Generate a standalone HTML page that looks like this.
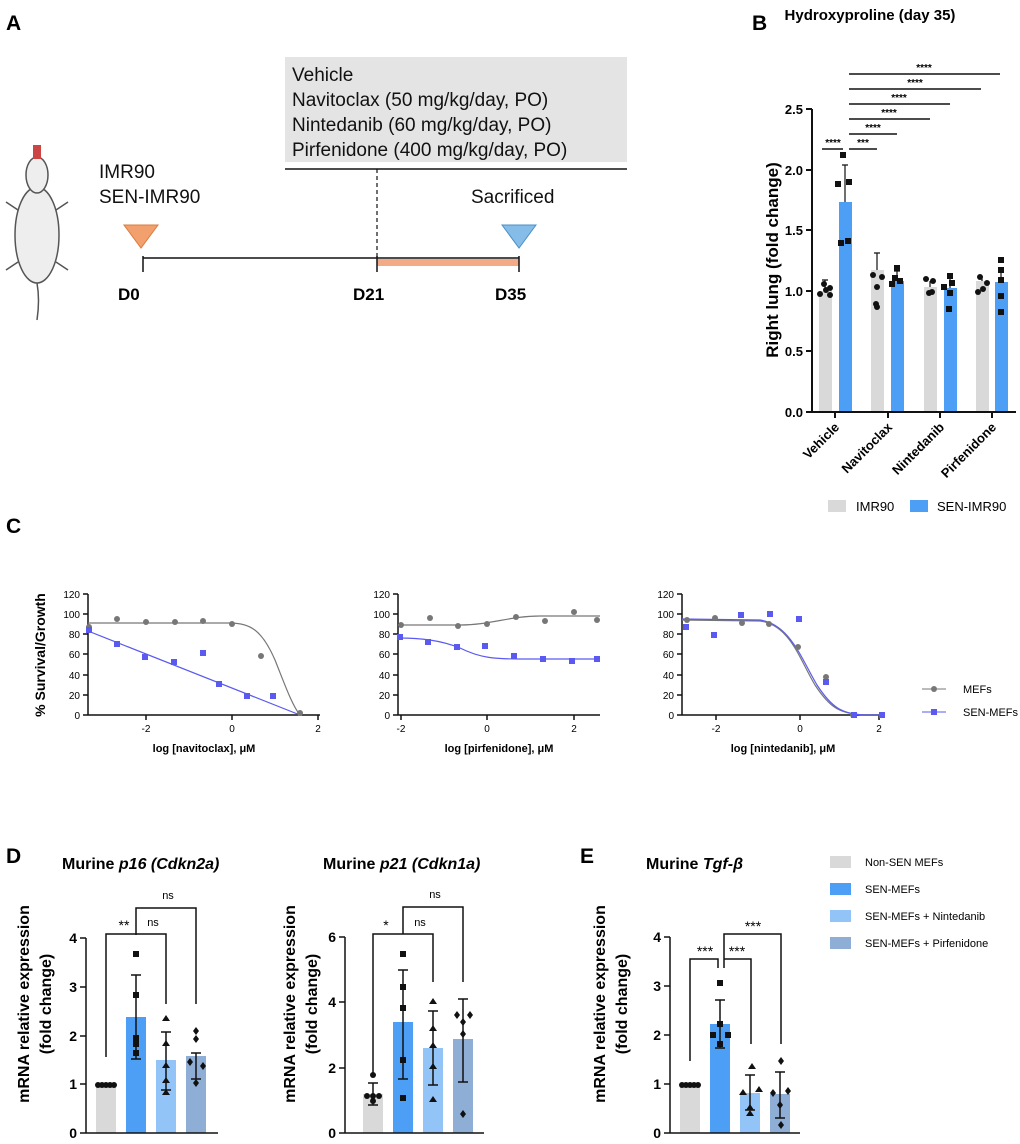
<!DOCTYPE html><html><head><meta charset="utf-8"><style>body{margin:0;background:#fff}svg{display:block;font-family:"Liberation Sans",Arial,sans-serif}</style></head><body>
<svg width="1020" height="1144" viewBox="0 0 1020 1144" xmlns="http://www.w3.org/2000/svg">
<g font-weight="bold" font-size="21"><text x="6" y="30">A</text><text x="752" y="30">B</text><text x="6" y="533">C</text><text x="6" y="863">D</text><text x="580" y="863">E</text></g>
<!-- Panel A -->
<g stroke="#555" stroke-width="1.5" fill="#eee"><ellipse cx="37" cy="235" rx="22" ry="48"/><ellipse cx="37" cy="175" rx="11" ry="18"/><path d="M37 283 Q40 300 37 320" fill="none"/><path d="M18 210 l-12 -8 M56 210 l12 -8 M18 262 l-12 8 M56 262 l12 8" fill="none"/></g>
<rect x="33" y="145" width="8" height="14" fill="#c44"/>
<rect x="285" y="57" width="342" height="105" fill="#e4e4e4"/>
<g font-size="19" fill="#111"><text x="292" y="81">Vehicle</text><text x="292" y="106">Navitoclax (50 mg/kg/day, PO)</text><text x="292" y="131">Nintedanib (60 mg/kg/day, PO)</text><text x="292" y="156">Pirfenidone (400 mg/kg/day, PO)</text>
<text x="99" y="178">IMR90</text><text x="99" y="203">SEN-IMR90</text><text x="471" y="203">Sacrificed</text></g>
<line x1="285" y1="169" x2="627" y2="169" stroke="#111" stroke-width="1.5"/>
<line x1="377" y1="169" x2="377" y2="258" stroke="#111" stroke-width="1.2" stroke-dasharray="4,3"/>
<rect x="377" y="259" width="142" height="7" fill="#f2ab86"/>
<g stroke="#111" stroke-width="1.5"><line x1="143" y1="258" x2="519" y2="258"/><line x1="143" y1="256" x2="143" y2="272"/><line x1="377" y1="256" x2="377" y2="272"/><line x1="519" y1="256" x2="519" y2="272"/></g>
<polygon points="124,225 158,225 141,248" fill="#f2a06e" stroke="#d97b3e"/>
<polygon points="502,225 536,225 519,248" fill="#86bde8" stroke="#4a8fc7"/>
<g font-size="17" font-weight="bold"><text x="118" y="300">D0</text><text x="353" y="300">D21</text><text x="495" y="300">D35</text></g>
<!-- Panel B -->
<text x="870" y="20" font-size="15" font-weight="bold" text-anchor="middle">Hydroxyproline (day 35)</text>
<g fill="#d9d9d9"><rect x="819" y="291" width="13" height="121"/><rect x="871" y="270" width="13" height="142"/><rect x="924" y="287" width="13" height="125"/><rect x="976" y="281" width="13" height="131"/></g>
<g fill="#4d9ef5"><rect x="839" y="202" width="13" height="210"/><rect x="891" y="281" width="13" height="131"/><rect x="944" y="288" width="13" height="124"/><rect x="995" y="282" width="13" height="130"/></g>
<g stroke="#111" stroke-width="1.2" fill="none"><path d="M825 291V280M822 280h6M845 202V165M842 165h6M877 270V253M874 253h6M897 281V271M894 271h6M930 287V281M950 288V275M982 281V276M1001 282V267"/></g>
<g fill="#111"><circle cx="820" cy="294" r="3"/><circle cx="826" cy="290" r="3"/><circle cx="830" cy="295" r="3"/><circle cx="824" cy="284" r="3"/><circle cx="830" cy="288" r="3"/>
<rect x="840" y="152" width="6" height="6"/><rect x="835" y="181" width="6" height="6"/><rect x="846" y="179" width="6" height="6"/><rect x="838" y="240" width="6" height="6"/><rect x="845" y="238" width="6" height="6"/>
<circle cx="873" cy="275" r="3"/><circle cx="882" cy="277" r="3"/><circle cx="877" cy="287" r="3"/><circle cx="876" cy="304" r="3"/><circle cx="877" cy="307" r="3"/>
<rect x="894" y="265" width="6" height="6"/><rect x="889" y="281" width="6" height="6"/><rect x="897" y="278" width="6" height="6"/><rect x="892" y="275" width="6" height="6"/>
<circle cx="926" cy="279" r="3"/><circle cx="933" cy="281" r="3"/><circle cx="929" cy="293" r="3"/><circle cx="932" cy="292" r="3"/>
<rect x="947" y="273" width="6" height="6"/><rect x="941" y="284" width="6" height="6"/><rect x="949" y="280" width="6" height="6"/><rect x="947" y="290" width="6" height="6"/><rect x="946" y="306" width="6" height="6"/>
<circle cx="980" cy="277" r="3"/><circle cx="987" cy="283" r="3"/><circle cx="978" cy="292" r="3"/><circle cx="983" cy="289" r="3"/>
<rect x="998" y="257" width="6" height="6"/><rect x="998" y="267" width="6" height="6"/><rect x="998" y="277" width="6" height="6"/><rect x="998" y="293" width="6" height="6"/><rect x="998" y="309" width="6" height="6"/></g>
<g stroke="#111" stroke-width="2" fill="none"><path d="M812 109V412H1016M806 109h6M806 170h6M806 230h6M806 291h6M806 351h6M806 412h6M835 412v6M888 412v6M940 412v6M992 412v6"/></g>
<g font-size="13" font-weight="bold" text-anchor="end"><text x="803" y="114">2.5</text><text x="803" y="175">2.0</text><text x="803" y="235">1.5</text><text x="803" y="296">1.0</text><text x="803" y="356">0.5</text><text x="803" y="417">0.0</text>
<text transform="translate(840,428) rotate(-45)">Vehicle</text><text transform="translate(893,428) rotate(-45)">Navitoclax</text><text transform="translate(945,428) rotate(-45)">Nintedanib</text><text transform="translate(997,428) rotate(-45)">Pirfenidone</text></g>
<text transform="translate(778,260) rotate(-90)" font-size="17" font-weight="bold" text-anchor="middle">Right lung (fold change)</text>
<g stroke="#111" stroke-width="1.5"><path d="M822 149h21M849 149h28M849 134h48M849 119h81M849 104h101M849 89h132M849 74h151"/></g>
<g font-size="10" text-anchor="middle" font-weight="bold"><text x="833" y="146">****</text><text x="863" y="146">***</text><text x="873" y="131">****</text><text x="889" y="116">****</text><text x="899" y="101">****</text><text x="915" y="86">****</text><text x="924" y="71">****</text></g>
<rect x="828" y="500" width="18" height="12" fill="#d9d9d9"/><text x="856" y="511" font-size="13">IMR90</text>
<rect x="910" y="500" width="18" height="12" fill="#4d9ef5"/><text x="937" y="511" font-size="13">SEN-IMR90</text>
<!-- Panel C -->
<text transform="translate(45,655) rotate(-90)" font-size="14" font-weight="bold" text-anchor="middle">% Survival/Growth</text>
<g stroke="#111" stroke-width="1.5" fill="none">
<path d="M88 594V715H320M83 594h5M83 614h5M83 634h5M83 654h5M83 675h5M83 695h5M83 715h5M146 715v5M232 715v5M318 715v5"/>
<path d="M398 594V715H600M393 594h5M393 614h5M393 634h5M393 654h5M393 675h5M393 695h5M393 715h5M401 715v5M487 715v5M574 715v5"/>
<path d="M682 594V715H885M677 594h5M677 614h5M677 634h5M677 654h5M677 675h5M677 695h5M677 715h5M716 715v5M800 715v5M879 715v5"/></g>
<g font-size="10" text-anchor="end"><text x="80" y="598">120</text><text x="80" y="618">100</text><text x="80" y="638">80</text><text x="80" y="658">60</text><text x="80" y="679">40</text><text x="80" y="699">20</text><text x="80" y="719">0</text>
<text x="390" y="598">120</text><text x="390" y="618">100</text><text x="390" y="638">80</text><text x="390" y="658">60</text><text x="390" y="679">40</text><text x="390" y="699">20</text><text x="390" y="719">0</text>
<text x="674" y="598">120</text><text x="674" y="618">100</text><text x="674" y="638">80</text><text x="674" y="658">60</text><text x="674" y="679">40</text><text x="674" y="699">20</text><text x="674" y="719">0</text></g>
<g font-size="10" text-anchor="middle"><text x="146" y="732">-2</text><text x="232" y="732">0</text><text x="318" y="732">2</text><text x="401" y="732">-2</text><text x="487" y="732">0</text><text x="574" y="732">2</text><text x="716" y="732">-2</text><text x="800" y="732">0</text><text x="879" y="732">2</text>
<g font-weight="bold" font-size="11"><text x="204" y="752">log [navitoclax], μM</text><text x="499" y="752">log [pirfenidone], μM</text><text x="783" y="752">log [nintedanib], μM</text></g></g>
<g fill="none" stroke-width="1.2"><path d="M88 623 L230 623 C250 623 262 630 275 660 C285 685 292 705 300 715" stroke="#777"/><path d="M88 631 L300 715" stroke="#5a5af0"/>
<path d="M398 625 L460 625 C490 625 510 616 540 616 L600 616" stroke="#777"/><path d="M398 638 C420 638 440 640 460 648 C480 658 495 659 520 659 L600 659" stroke="#5a5af0"/>
<path d="M682 620 L760 621 C790 625 800 660 815 685 C830 708 840 714 865 715 L885 715" stroke="#777"/><path d="M682 619 L760 620 C790 624 802 660 817 685 C832 708 842 714 865 715 L885 715" stroke="#5a5af0"/></g>
<g fill="#777"><circle cx="89" cy="627" r="3"/><circle cx="117" cy="619" r="3"/><circle cx="146" cy="622" r="3"/><circle cx="175" cy="622" r="3"/><circle cx="203" cy="621" r="3"/><circle cx="232" cy="624" r="3"/><circle cx="261" cy="656" r="3"/><circle cx="300" cy="713" r="3"/>
<circle cx="401" cy="625" r="3"/><circle cx="430" cy="618" r="3"/><circle cx="458" cy="626" r="3"/><circle cx="487" cy="624" r="3"/><circle cx="516" cy="617" r="3"/><circle cx="545" cy="621" r="3"/><circle cx="574" cy="612" r="3"/><circle cx="597" cy="620" r="3"/>
<circle cx="687" cy="620" r="3"/><circle cx="715" cy="618" r="3"/><circle cx="742" cy="623" r="3"/><circle cx="769" cy="624" r="3"/><circle cx="798" cy="647" r="3"/><circle cx="826" cy="677" r="3"/><circle cx="853" cy="715" r="3"/><circle cx="882" cy="715" r="3"/></g>
<g fill="#5a5af0"><rect x="86" y="627" width="6" height="6"/><rect x="114" y="641" width="6" height="6"/><rect x="142" y="654" width="6" height="6"/><rect x="171" y="659" width="6" height="6"/><rect x="200" y="650" width="6" height="6"/><rect x="216" y="681" width="6" height="6"/><rect x="244" y="693" width="6" height="6"/><rect x="270" y="693" width="6" height="6"/>
<rect x="397" y="634" width="6" height="6"/><rect x="425" y="639" width="6" height="6"/><rect x="454" y="644" width="6" height="6"/><rect x="482" y="643" width="6" height="6"/><rect x="511" y="653" width="6" height="6"/><rect x="540" y="656" width="6" height="6"/><rect x="569" y="658" width="6" height="6"/><rect x="594" y="656" width="6" height="6"/>
<rect x="683" y="624" width="6" height="6"/><rect x="711" y="632" width="6" height="6"/><rect x="738" y="612" width="6" height="6"/><rect x="767" y="611" width="6" height="6"/><rect x="796" y="616" width="6" height="6"/><rect x="823" y="679" width="6" height="6"/><rect x="851" y="712" width="6" height="6"/><rect x="879" y="712" width="6" height="6"/></g>
<line x1="922" y1="689" x2="946" y2="689" stroke="#777"/><circle cx="934" cy="689" r="3" fill="#777"/><text x="963" y="693" font-size="11">MEFs</text>
<line x1="922" y1="712" x2="946" y2="712" stroke="#5a5af0"/><rect x="931" y="709" width="6" height="6" fill="#5a5af0"/><text x="963" y="716" font-size="11">SEN-MEFs</text>
<!-- Panel D/E -->
<g font-size="16" font-weight="bold"><text x="62" y="869">Murine <tspan font-style="italic">p16 (Cdkn2a)</tspan></text><text x="323" y="869">Murine <tspan font-style="italic">p21 (Cdkn1a)</tspan></text><text x="646" y="869">Murine <tspan font-style="italic">Tgf-β</tspan></text></g>
<g font-size="16" font-weight="bold" text-anchor="middle"><text transform="translate(29,1004) rotate(-90)">mRNA relative expression</text><text transform="translate(51,1004) rotate(-90)">(fold change)</text>
<text transform="translate(295,1004) rotate(-90)">mRNA relative expression</text><text transform="translate(317,1004) rotate(-90)">(fold change)</text>
<text transform="translate(605,1004) rotate(-90)">mRNA relative expression</text><text transform="translate(627,1004) rotate(-90)">(fold change)</text></g>
<g fill="#d9d9d9"><rect x="96" y="1084" width="20" height="49"/><rect x="363" y="1094" width="20" height="39"/><rect x="680" y="1084" width="20" height="49"/></g>
<g fill="#4d9ef5"><rect x="126" y="1017" width="20" height="116"/><rect x="393" y="1022" width="20" height="111"/><rect x="710" y="1024" width="20" height="109"/></g>
<g fill="#93c4f7"><rect x="156" y="1060" width="20" height="73"/><rect x="423" y="1048" width="20" height="85"/><rect x="740" y="1093" width="20" height="40"/></g>
<g fill="#8eaed6"><rect x="186" y="1056" width="20" height="77"/><rect x="453" y="1039" width="20" height="94"/><rect x="770" y="1094" width="20" height="39"/></g>
<g stroke="#111" stroke-width="1.5" fill="none">
<path d="M86 938V1133H218M80 938h6M80 987h6M80 1036h6M80 1084h6M80 1133h6"/>
<path d="M345 937V1133H484M339 937h6M339 1002h6M339 1068h6M339 1133h6"/>
<path d="M670 937V1133H800M664 937h6M664 986h6M664 1035h6M664 1084h6M664 1133h6"/>
<path d="M136 975V1059M131 975h10M131 1059h10M166 1032V1090M161 1032h10M161 1090h10M196 1053V1079M191 1053h10M191 1079h10"/>
<path d="M373 1083V1105M368 1083h10M368 1105h10M403 970V1079M398 970h10M398 1079h10M433 1011V1085M428 1011h10M428 1085h10M463 999V1082M458 999h10M458 1082h10"/>
<path d="M720 1000V1048M715 1000h10M715 1048h10M750 1075V1110M745 1075h10M745 1110h10M780 1072V1118M775 1072h10M775 1118h10"/>
<path d="M106 1057V934H136V935M136 934H166V1004M136 934V908H196V1004"/><path d="M373 1074V934H403M403 934H433V982M403 934V907H463V982"/>
<path d="M690 1061V959H718V968M724 968V959H751V1044M724 968V934H781V1044"/></g>
<g font-size="11" text-anchor="middle"><text x="124" y="930" font-size="14">**</text><text x="153" y="926">ns</text><text x="168" y="899">ns</text><text x="386" y="930" font-size="14">*</text><text x="420" y="926">ns</text><text x="435" y="898">ns</text><text x="705" y="956" font-size="14">***</text><text x="737" y="956" font-size="14">***</text><text x="753" y="931" font-size="14">***</text></g>
<g font-size="14" font-weight="bold" text-anchor="end"><text x="77" y="943">4</text><text x="77" y="992">3</text><text x="77" y="1041">2</text><text x="77" y="1089">1</text><text x="77" y="1138">0</text>
<text x="336" y="942">6</text><text x="336" y="1007">4</text><text x="336" y="1073">2</text><text x="336" y="1138">0</text>
<text x="661" y="942">4</text><text x="661" y="991">3</text><text x="661" y="1040">2</text><text x="661" y="1089">1</text><text x="661" y="1138">0</text></g>
<g fill="#111"><circle cx="98" cy="1085" r="3"/><circle cx="102" cy="1085" r="3"/><circle cx="106" cy="1085" r="3"/><circle cx="110" cy="1085" r="3"/><circle cx="114" cy="1085" r="3"/>
<rect x="133" y="951" width="6" height="6"/><rect x="133" y="992" width="6" height="6"/><rect x="133" y="1035" width="6" height="6"/><rect x="133" y="1041" width="6" height="6"/><rect x="133" y="1050" width="6" height="6"/>
<path d="M166 1015l4 6h-8zM166 1040l4 6h-8zM166 1062l4 6h-8zM166 1077l4 6h-8zM166 1089l4 6h-8z"/>
<path d="M196 1027l3 4-3 4-3-4zM196 1035l3 4-3 4-3-4zM190 1058l3 4-3 4-3-4zM203 1062l3 4-3 4-3-4zM196 1079l3 4-3 4-3-4z"/>
<circle cx="373" cy="1075" r="3"/><circle cx="367" cy="1096" r="3"/><circle cx="373" cy="1096" r="3"/><circle cx="379" cy="1096" r="3"/><circle cx="373" cy="1101" r="3"/>
<rect x="400" y="951" width="6" height="6"/><rect x="400" y="984" width="6" height="6"/><rect x="400" y="1005" width="6" height="6"/><rect x="400" y="1057" width="6" height="6"/><rect x="400" y="1095" width="6" height="6"/>
<path d="M433 998l4 6h-8zM433 1025l4 6h-8zM433 1042l4 6h-8zM433 1063l4 6h-8zM433 1096l4 6h-8z"/>
<path d="M457 1011l3 4-3 4-3-4zM470 1011l3 4-3 4-3-4zM463 1018l3 4-3 4-3-4zM463 1030l3 4-3 4-3-4zM463 1110l3 4-3 4-3-4z"/>
<circle cx="682" cy="1085" r="3"/><circle cx="686" cy="1085" r="3"/><circle cx="690" cy="1085" r="3"/><circle cx="694" cy="1085" r="3"/><circle cx="698" cy="1085" r="3"/>
<rect x="717" y="980" width="6" height="6"/><rect x="717" y="1021" width="6" height="6"/><rect x="710" y="1032" width="6" height="6"/><rect x="725" y="1032" width="6" height="6"/><rect x="717" y="1041" width="6" height="6"/>
<path d="M752 1063l4 6h-8zM743 1089l4 6h-8zM759 1086l4 6h-8zM750 1104l4 6h-8zM750 1110l4 6h-8z"/>
<path d="M781 1057l3 4-3 4-3-4zM773 1089l3 4-3 4-3-4zM788 1087l3 4-3 4-3-4zM780 1101l3 4-3 4-3-4zM781 1121l3 4-3 4-3-4z"/></g>
<g font-size="11"><rect x="830" y="856" width="21" height="12" fill="#d9d9d9"/><text x="865" y="866">Non-SEN MEFs</text>
<rect x="830" y="883" width="21" height="12" fill="#4d9ef5"/><text x="865" y="893">SEN-MEFs</text>
<rect x="830" y="910" width="21" height="12" fill="#93c4f7"/><text x="865" y="920">SEN-MEFs + Nintedanib</text>
<rect x="830" y="937" width="21" height="12" fill="#8eaed6"/><text x="865" y="947">SEN-MEFs + Pirfenidone</text></g>
</svg></body></html>
